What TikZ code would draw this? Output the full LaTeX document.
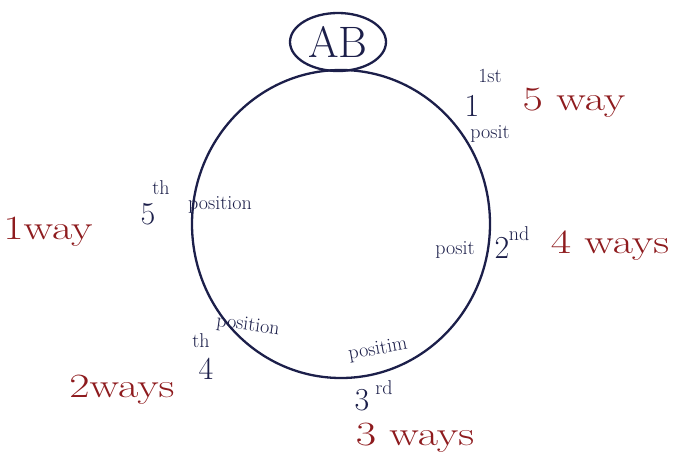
\documentclass[tikz,border=0pt]{standalone}
\usepackage{fontspec}
\usepackage{graphicx}
\usetikzlibrary{shapes.geometric}
\definecolor{ink}{HTML}{1C1F4A}
\definecolor{redink}{HTML}{8E1B1E}
\newcommand{\widetxt}[1]{\scalebox{1.3}[1]{#1}}
\tikzset{
  pen/.style={draw=ink, line width=2.3pt},
  blk/.style={text=ink, inner sep=0pt},
  red/.style={text=redink, inner sep=0pt, font=\fontsize{34}{36}\selectfont},
  small/.style={blk, font=\fontsize{20}{22}\selectfont},
  num/.style={blk, font=\fontsize{32}{34}\selectfont},
  sup/.style={blk, font=\fontsize{20}{22}\selectfont},
}
\begin{document}
\begin{tikzpicture}[x=1pt,y=-1pt]
\useasboundingbox (0,0) rectangle (677,469);
% main circle
\node[pen, ellipse, minimum width=298pt, minimum height=308pt, inner sep=0pt] (ring) at (341,224) {};
% AB
\node[pen, ellipse, minimum width=96pt, minimum height=58pt, inner sep=0pt, text=ink, font=\fontsize{44}{46}\selectfont] (ab) at (338,42) {AB};
% 1st position
\node[sup] (s1) at (490,76) {1st};
\node[num] (n1) at (472,106) {1};
\node[small] (p1) at (490,134) {posit};
\node[red] (w1) at (574,103) {\widetxt{5 way}};
% 2nd position
\node[small] (p2) at (455,250) {posit};
\node[num] (n2) at (502,248) {2};
\node[sup] (s2) at (519,234) {nd};
\node[red] (w2) at (610,246) {\widetxt{4 ways}};
% 3rd position
\node[small, rotate=10] (p3) at (378,350) {positim};
\node[num] (n3) at (362,400) {3};
\node[sup] (s3) at (384,388) {rd};
\node[red] (w3) at (415,438) {\widetxt{3 ways}};
% 4th position
\node[sup] (s4) at (201,341) {th};
\node[small, rotate=-8] (p4) at (248,326) {position};
\node[num] (n4) at (206,369) {4};
\node[red] (w4) at (122,390) {\widetxt{2ways}};
% 5th position
\node[num] (n5) at (148,214) {5};
\node[sup] (s5) at (161,188) {th};
\node[small] (p5) at (220,205) {position};
\node[red] (w5) at (48,232) {\widetxt{1way}};
\end{tikzpicture}
\end{document}
